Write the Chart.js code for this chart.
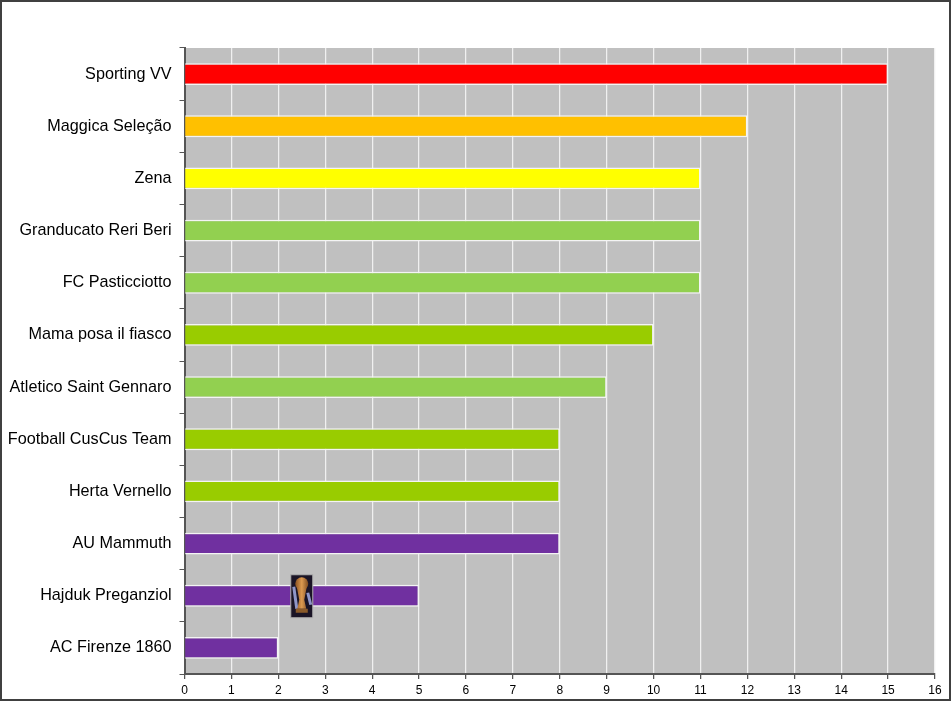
<!DOCTYPE html>
<html>
<head>
<meta charset="utf-8">
<title>Classifica</title>
<script src="https://cdn.jsdelivr.net/npm/chart.js@4/dist/chart.umd.min.js"></script>
<style>
    html, body { margin: 0; padding: 0; background: #fff; }
    #wrap { position: relative; width: 951px; height: 701px; overflow: hidden; }
    #frame { position: absolute; inset: 0; border: 2px solid #404040; box-sizing: border-box; pointer-events: none; }
</style>
</head>
<body>
<div id="wrap">
    <canvas id="rankingChart" width="951" height="701"></canvas>
    <div id="frame"></div>
</div>
<script>
const teams = ['Sporting VV', 'Maggica Seleção', 'Zena', 'Granducato Reri Beri', 'FC Pasticciotto',
    'Mama posa il fiasco', 'Atletico Saint Gennaro', 'Football CusCus Team', 'Herta Vernello',
    'AU Mammuth', 'Hajduk Preganziol', 'AC Firenze 1860'];
const points = [15, 12, 11, 11, 11, 10, 9, 8, 8, 8, 5, 2];
const barColors = ['#FF0000', '#FFC000', '#FFFF00', '#92D050', '#92D050', '#99CC00', '#92D050',
    '#99CC00', '#99CC00', '#7030A0', '#7030A0', '#7030A0'];
const trophyTeam = 'Hajduk Preganziol';
const trophyValue = 2.5;

// sfondo grigio dell'area del grafico
const plotBackground = {
    id: 'plotBackground',
    beforeDraw(chart) {
        const { ctx, chartArea: a } = chart;
        ctx.save();
        ctx.fillStyle = '#C0C0C0';
        ctx.fillRect(a.left, a.top, a.right - a.left, a.bottom - a.top);
        ctx.restore();
    }
};

// la coppa sopra la barra, disegnata a mano perche' non c'e' un file immagine
const trophyIcon = {
    id: 'trophyIcon',
    afterDatasetsDraw(chart) {
        const { ctx, scales } = chart;
        const cx = scales.x.getPixelForValue(trophyValue);
        const cy = scales.y.getPixelForValue(teams.indexOf(trophyTeam)) + 0.5;
        const w = 22, h = 43;
        const l = cx - w / 2, t = cy - h / 2;
        ctx.save();
        ctx.fillStyle = '#1a1426';
        ctx.fillRect(l, t, w, h);
        // riflessi azzurri dietro la coppa
        ctx.strokeStyle = '#8f96c8';
        ctx.lineWidth = 3;
        ctx.beginPath();
        ctx.moveTo(l + 3, t + 12);
        ctx.lineTo(l + 6, t + 34);
        ctx.moveTo(l + 17, t + 18);
        ctx.lineTo(l + 20, t + 30);
        ctx.stroke();
        ctx.strokeStyle = '#b0b0b0';
        ctx.lineWidth = 1;
        ctx.strokeRect(l, t, w, h);
        // coppa
        const gold = ctx.createLinearGradient(l + 3, 0, l + w - 3, 0);
        gold.addColorStop(0, '#7a4318');
        gold.addColorStop(0.5, '#dc9a50');
        gold.addColorStop(1, '#6a3a15');
        ctx.fillStyle = gold;
        ctx.beginPath();
        ctx.arc(cx, t + 9, 6.5, 0, Math.PI * 2);
        ctx.fill();
        ctx.beginPath();
        ctx.moveTo(cx - 5, t + 12);
        ctx.lineTo(cx + 5, t + 12);
        ctx.lineTo(cx + 2.5, t + 25);
        ctx.lineTo(cx + 4.5, t + 34);
        ctx.lineTo(cx - 4.5, t + 34);
        ctx.lineTo(cx - 2.5, t + 25);
        ctx.closePath();
        ctx.fill();
        ctx.fillStyle = '#8a5a2a';
        ctx.fillRect(cx - 6, t + 34, 12, 4);
        ctx.restore();
    }
};

new Chart(document.getElementById('rankingChart').getContext('2d'), {
    type: 'bar',
    data: {
        labels: teams,
        datasets: [{
            data: points,
            backgroundColor: barColors,
            borderColor: '#F4F4F4',
            borderWidth: 1.5,
            barPercentage: 0.42,
            categoryPercentage: 1
        }]
    },
    options: {
        indexAxis: 'y',
        responsive: false,
        animation: false,
        layout: { padding: { top: 48, right: 16, bottom: 0, left: 0 } },
        plugins: { legend: { display: false }, tooltip: { enabled: false } },
        scales: {
            x: {
                min: 0,
                max: 16,
                afterFit(scale) { scale.height = 27; },
                grid: { color: '#F0F0F0', lineWidth: 1.25, tickColor: '#555555', tickLength: 5 },
                border: { color: '#555555', width: 2 },
                ticks: {
                    stepSize: 1,
                    maxRotation: 0,
                    padding: 4,
                    color: '#000000',
                    font: { family: '"Liberation Sans"', size: 12 }
                }
            },
            y: {
                afterFit(scale) { scale.width = 184.5; },
                grid: { offset: true, drawOnChartArea: false, tickColor: '#555555', tickLength: 5 },
                border: { color: '#555555', width: 2 },
                ticks: {
                    padding: 8,
                    autoSkip: false,
                    color: '#000000',
                    font: { family: '"Liberation Sans"', size: 16.2 }
                }
            }
        }
    },
    plugins: [plotBackground, trophyIcon]
});
</script>
</body>
</html>
